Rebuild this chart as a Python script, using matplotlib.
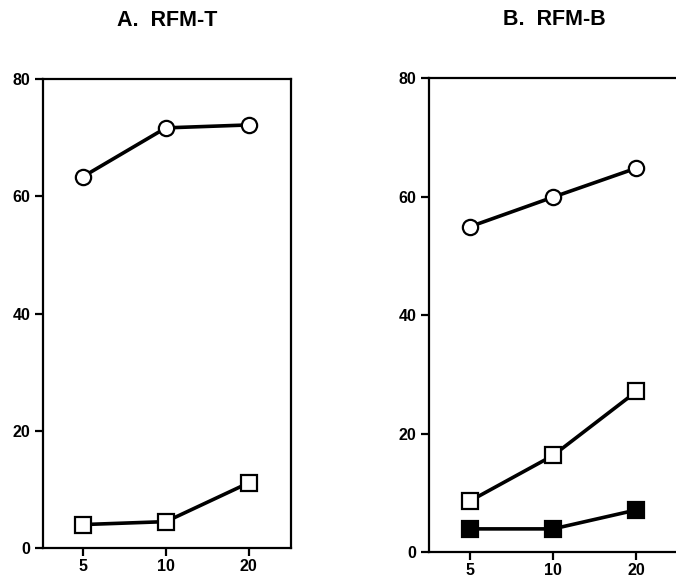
import matplotlib.pyplot as plt

plt.rcParams['font.family'] = ['Liberation Sans', 'DejaVu Sans']

# x categories (equally spaced)
doses = ['5', '10', '20']

# panel A: RFM-T
a_circles = [63.4, 71.7, 72.2]
a_squares = [4.0, 4.5, 11.1]

# panel B: RFM-B
b_circles = [54.9, 59.9, 64.8]
b_squares = [8.6, 16.3, 27.1]
b_filled = [3.9, 3.9, 7.1]

yticks = [0, 20, 40, 60, 80]

fig = plt.figure(figsize=(6.76, 5.78), dpi=100)
ax_a = fig.add_axes([0.0632, 0.0519, 0.368, 0.811])
ax_b = fig.add_axes([0.6346, 0.045, 0.371, 0.820])

xi = range(len(doses))
lw = 2.6
ms = 11


def style(ax, title):
    ax.set_xlim(-0.49, 2.52)
    ax.set_ylim(0, 80)
    ax.set_xticks(list(xi))
    ax.set_xticklabels(doses)
    ax.set_yticks(yticks)
    for s in ax.spines.values():
        s.set_linewidth(1.6)
    ax.tick_params(direction='out', length=6, width=1.6, labelsize=11.5)
    for lab in ax.get_xticklabels() + ax.get_yticklabels():
        lab.set_fontweight('bold')
    ax.tick_params(axis='x', pad=2)
    ax.tick_params(axis='y', pad=3)
    ax.set_title(title, fontsize=15.5, fontweight='bold', pad=38)


ax_a.plot(xi, a_circles, color='black', lw=lw, marker='o', ms=ms,
          mfc='white', mec='black', mew=1.6)
ax_a.plot(xi, a_squares, color='black', lw=lw, marker='s', ms=ms,
          mfc='white', mec='black', mew=1.6)
style(ax_a, 'A.  RFM-T')

ax_b.plot(xi, b_circles, color='black', lw=lw, marker='o', ms=ms,
          mfc='white', mec='black', mew=1.6)
ax_b.plot(xi, b_squares, color='black', lw=lw, marker='s', ms=ms,
          mfc='white', mec='black', mew=1.6)
ax_b.plot(xi, b_filled, color='black', lw=lw, marker='s', ms=ms,
          mfc='black', mec='black', mew=1.6)
style(ax_b, 'B.  RFM-B')

fig.savefig('out.png', dpi=100)
